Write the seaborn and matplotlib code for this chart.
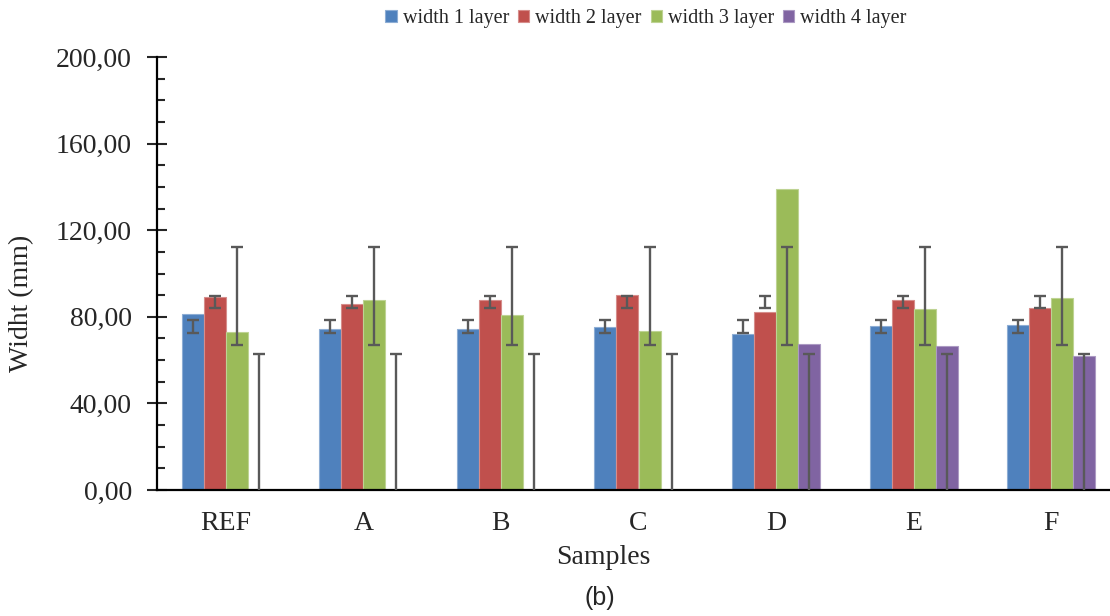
import numpy as np
import pandas as pd
import matplotlib
matplotlib.use("Agg")
import matplotlib.pyplot as plt
import matplotlib.colors as mcolors
from matplotlib.ticker import MultipleLocator, FuncFormatter
import seaborn as sns

# values
samples = ["REF", "A", "B", "C", "D", "E", "F"]
layers = ["width 1 layer", "width 2 layer", "width 3 layer", "width 4 layer"]
width_1 = [81.1, 74.2, 74.2, 75.1, 72.1, 75.8, 76.2]
width_2 = [89.1, 86.1, 87.6, 89.9, 82.4, 87.8, 84.2]
width_3 = [73.0, 87.6, 81.0, 73.3, 139.0, 83.4, 88.8]
width_4 = [0.0, 0.0, 0.0, 0.0, 67.4, 66.4, 61.7]
# error bar ends, one pair per series (same in every group)
err_low = [72.7, 84.2, 66.8, -7.0]
err_high = [78.5, 89.6, 112.1, 63.0]

colors = ["#4F81BD", "#C0504D", "#9BBB59", "#8064A2"]

df = pd.DataFrame({
    "Samples": samples * 4,
    "Width": width_1 + width_2 + width_3 + width_4,
    "Layer": np.repeat(layers, len(samples)),
})

sns.set_style("white")
plt.rcParams["font.family"] = ["Liberation Serif", "DejaVu Serif"]

fig = plt.figure(figsize=(11.10, 6.16), dpi=100)
ax = fig.add_axes([157 / 1110, 126 / 616, 963 / 1110, 433 / 616])

sns.barplot(data=df, x="Samples", y="Width", hue="Layer", hue_order=layers,
            palette=colors, width=0.64, saturation=1, errorbar=None, ax=ax)

# light rim on every bar, like the original
for patch in ax.patches:
    fc = np.array(mcolors.to_rgb(patch.get_facecolor()))
    patch.set_edgecolor(fc + (1 - fc) * 0.35)
    patch.set_linewidth(0.8)

# error bars centred on each bar
bar_groups = list(ax.containers)
for i, cont in enumerate(bar_groups):
    xs = [p.get_x() + p.get_width() / 2 for p in cont.patches]
    mid = (err_low[i] + err_high[i]) / 2
    half = (err_high[i] - err_low[i]) / 2
    ax.errorbar(xs, [mid] * len(xs), yerr=half, fmt="none", ecolor="#595959",
                elinewidth=1.7, capsize=4.3, capthick=1.7, zorder=5)

ax.set_ylim(0, 200)
ax.set_xlim(-0.5, 6.5)
ax.yaxis.set_major_locator(MultipleLocator(40))
ax.yaxis.set_minor_locator(MultipleLocator(10))
ax.yaxis.set_major_formatter(FuncFormatter(lambda v, p: f"{v:.2f}".replace(".", ",")))
ax.tick_params(axis="y", which="major", direction="inout", length=14, width=1.5,
               labelsize=20, pad=11, left=True)
ax.tick_params(axis="y", which="minor", direction="in", length=6, width=1.5, left=True)
ax.tick_params(axis="x", length=0, labelsize=20, pad=15)

for side in ["top", "right"]:
    ax.spines[side].set_visible(False)
for side in ["left", "bottom"]:
    ax.spines[side].set_color("black")
    ax.spines[side].set_linewidth(1.6)

ax.set_xlabel("")
ax.set_ylabel("")
fig.text(603 / 1110, 1 - 557 / 616, "Samples", ha="center", va="center", fontsize=20)
fig.text(22 / 1110, 1 - 303 / 616, "Widht (mm)", ha="center", va="center",
         rotation=90, fontsize=20)
fig.text(600 / 1110, 1 - 598 / 616, "(b)", ha="center", va="center", fontsize=18,
         family=["Liberation Sans", "DejaVu Sans"])

handles, labels = ax.get_legend_handles_labels()
ax.get_legend().remove()
fig.legend(handles, labels, loc="center", bbox_to_anchor=(646 / 1110, 1 - 19 / 616),
           ncol=4, frameon=False, fontsize=14.5, handlelength=0.55, handleheight=0.55,
           handletextpad=0.3, columnspacing=0.45, borderpad=0)

fig.savefig("out.png", dpi=100)
